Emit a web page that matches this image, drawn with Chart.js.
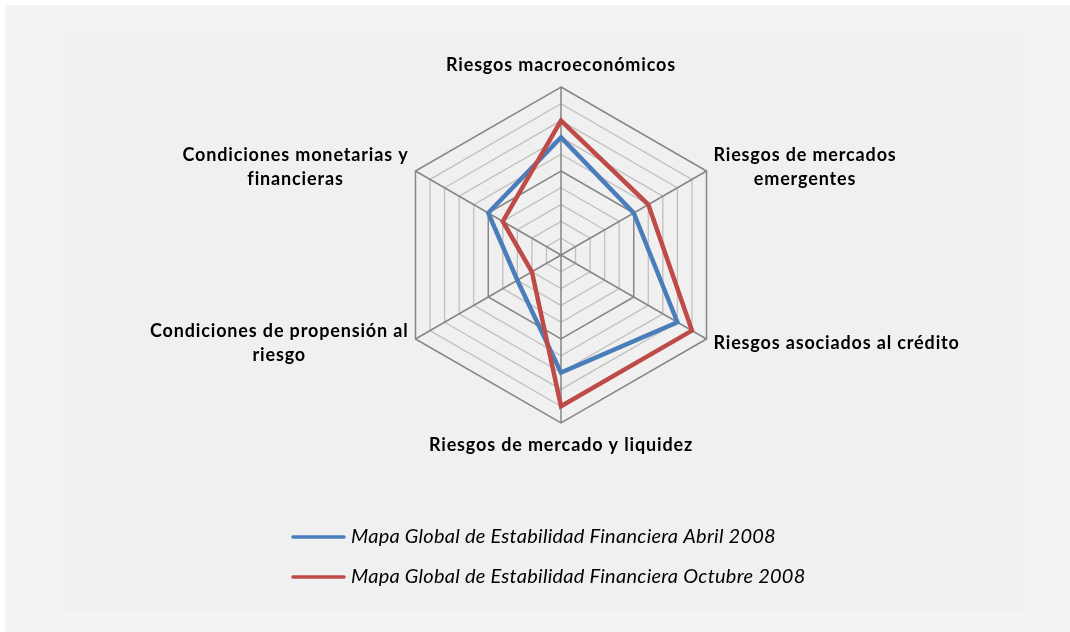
<!DOCTYPE html>
<html>
<head>
<meta charset="utf-8">
<script src="https://cdn.jsdelivr.net/npm/chart.js@4"></script>
<style>
  html, body { margin: 0; padding: 0; background: #ffffff; }
  #wrap { width: 1070px; height: 632px; position: relative; }
  canvas { display: block; }
</style>
</head>
<body>
<div id="wrap"><canvas id="c" width="1070" height="632"></canvas></div>
<script>
// ---- data ----
const categories = [
  ['Riesgos macroeconómicos'],
  ['Riesgos de mercados', 'emergentes'],
  ['Riesgos asociados al crédito'],
  ['Riesgos de mercado y liquidez'],
  ['Condiciones de propensión al', 'riesgo'],
  ['Condiciones monetarias y', 'financieras']
];
const abril2008 = [7, 5, 8, 7, 3, 5];
const octubre2008 = [8, 6, 9, 9, 2, 4];
const seriesNames = [
  'Mapa Global de Estabilidad Financiera Abril 2008',
  'Mapa Global de Estabilidad Financiera Octubre 2008'
];
const seriesColors = ['#4a7ebb', '#be4b48'];
const scaleMin = 0;
const scaleMax = 10;
const scaleStep = 1;
const majorEvery = 5;

// ---- plugins ----
const backgroundPlugin = {
  id: 'bg',
  beforeDraw(chart) {
    const ctx = chart.ctx;
    ctx.save();
    ctx.fillStyle = '#ffffff';
    ctx.fillRect(0, 0, chart.width, chart.height);
    ctx.fillStyle = '#f3f3f3';
    ctx.fillRect(5, 5, chart.width - 5, chart.height - 5);
    ctx.fillStyle = '#f0f0f0';
    ctx.fillRect(64, 33, 961, 578);
    ctx.restore();
  }
};

const pointLabelPlugin = {
  id: 'plabels',
  afterDraw(chart) {
    const s = chart.scales.r;
    const ctx = chart.ctx;
    ctx.save();
    ctx.font = 'bold 18px Lato';
    try { ctx.letterSpacing = '0.85px'; } catch (e) {}
    ctx.fillStyle = '#000000';
    ctx.textBaseline = 'middle';
    ctx.textAlign = 'left';
    const lh = 24;
    chart.data.labels.forEach((lines, i) => {
      const n = lines.length;
      const a = s.getIndexAngle(i);
      const sinA = Math.sin(a);
      const widths = lines.map(t => ctx.measureText(t).width);
      const w = Math.max(...widths);
      let cx, p;
      if (Math.abs(sinA) < 0.01) {
        p = s.getPointPosition(i, s.drawingArea + 22);
        cx = p.x;
      } else {
        p = s.getPointPosition(i, s.drawingArea + 8);
        cx = sinA > 0 ? p.x + w / 2 : p.x - w / 2;
      }
      lines.forEach((t, k) => ctx.fillText(t, cx - widths[k] / 2, p.y + (k - (n - 1) / 2) * lh));
    });
    ctx.restore();
  }
};

const legendPlugin = {
  id: 'customLegend',
  afterDraw(chart) {
    const ctx = chart.ctx;
    ctx.save();
    ctx.font = 'italic 20px Lato';
    try { ctx.letterSpacing = '0.25px'; } catch (e) {}
    ctx.textBaseline = 'middle';
    ctx.textAlign = 'left';
    const x0 = 293, x1 = 344, tx = 351;
    const ys = [537, 577];
    chart.data.datasets.forEach((ds, i) => {
      const y = ys[i];
      ctx.strokeStyle = ds.borderColor;
      ctx.lineWidth = 3.5;
      ctx.lineCap = 'round';
      ctx.beginPath();
      ctx.moveTo(x0, y);
      ctx.lineTo(x1, y);
      ctx.stroke();
      ctx.fillStyle = '#000000';
      ctx.fillText(ds.label, tx, y);
    });
    ctx.restore();
  }
};

new Chart(document.getElementById('c'), {
  type: 'radar',
  data: {
    labels: categories,
    datasets: [
      { label: seriesNames[0], data: abril2008, borderColor: seriesColors[0], backgroundColor: 'transparent',
        borderWidth: 4.5, pointRadius: 0, pointHoverRadius: 0, fill: false, order: 1, borderJoinStyle: 'miter' },
      { label: seriesNames[1], data: octubre2008, borderColor: seriesColors[1], backgroundColor: 'transparent',
        borderWidth: 4.5, pointRadius: 0, pointHoverRadius: 0, fill: false, order: 0, borderJoinStyle: 'miter' }
    ]
  },
  options: {
    responsive: false,
    animation: false,
    devicePixelRatio: 1,
    layout: { padding: { top: 87, bottom: 209, left: 60, right: 8 } },
    elements: { line: { tension: 0 } },
    plugins: { legend: { display: false }, tooltip: { enabled: false }, title: { display: false } },
    scales: {
      r: {
        min: scaleMin,
        max: scaleMax,
        beginAtZero: true,
        ticks: { display: false, stepSize: scaleStep },
        pointLabels: { display: false },
        grid: {
          color: c => (c.tick && c.tick.value % majorEvery === 0) ? '#868686' : '#c0c0c0',
          lineWidth: c => (c.tick && c.tick.value % majorEvery === 0) ? 1.5 : 1.3
        },
        angleLines: { color: '#868686', lineWidth: 1.5 }
      }
    }
  },
  plugins: [backgroundPlugin, pointLabelPlugin, legendPlugin]
});
</script>
</body>
</html>
